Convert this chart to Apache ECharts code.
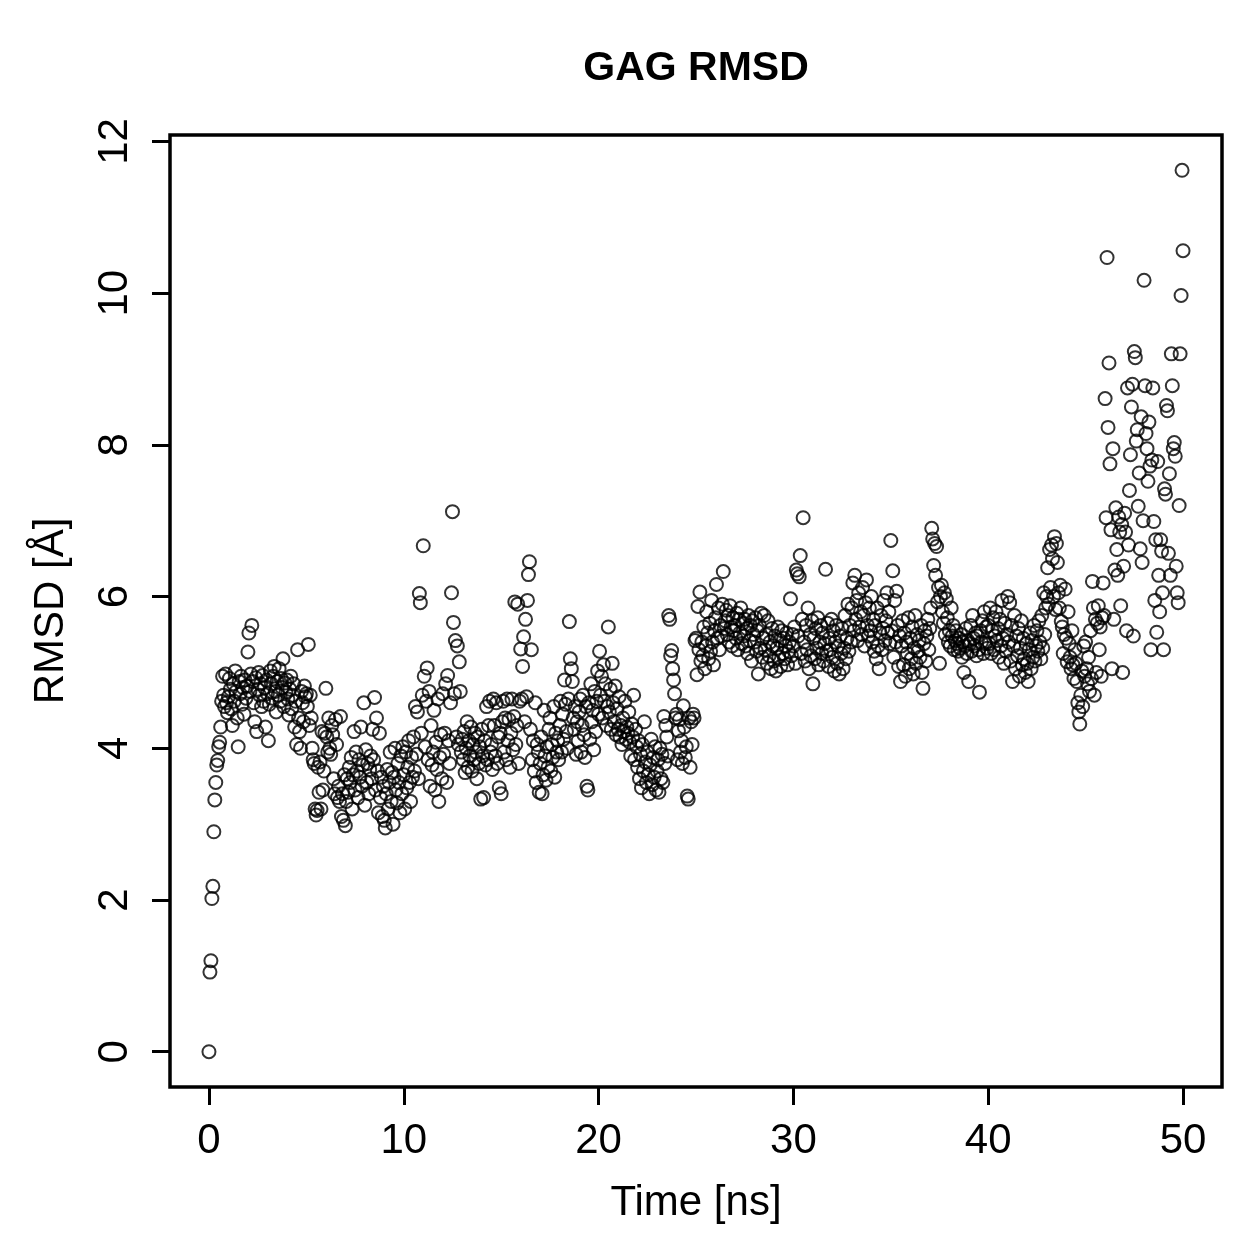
<!DOCTYPE html>
<html>
<head>
<meta charset="utf-8">
<script src="https://cdn.jsdelivr.net/npm/echarts@6/dist/echarts.min.js"></script>
<style>
  html, body { margin: 0; padding: 0; background: #fff; }
  #chart { width: 1259px; height: 1259px; }
</style>
</head>
<body>
<div id="chart"></div>
<script>
// sampling step of the trajectory (ns)
var timeStep = 0.05;

// RMSD values (Å), one list per 5 ns block
var rmsd00to05 = [0.00, 1.05, 1.20, 2.02, 2.18, 2.90, 3.32, 3.55, 3.78, 3.84, 4.02, 4.08, 4.28,
  4.62, 4.95, 4.70, 4.55, 4.98, 4.60, 4.47,
  4.68, 4.92, 4.78, 4.52, 4.30, 4.85, 4.62, 5.02, 4.75, 4.40, 4.02, 4.88, 4.72, 4.95, 4.58, 4.80, 4.45, 4.90, 4.66, 4.82,
  5.27, 5.52, 4.75, 4.98, 5.62, 4.88, 4.60, 4.35, 4.93, 4.22, 4.78, 5.00, 4.70, 4.85, 4.55, 4.96, 4.62, 4.80, 4.28, 4.90,
  4.72, 4.10, 4.58, 5.02, 4.85, 4.66, 4.95, 5.08, 4.75, 4.48, 4.88, 4.70, 5.05, 4.62, 4.92, 4.80, 5.18, 4.55, 4.86, 4.74,
  4.90, 4.65, 4.44, 4.78, 4.95, 4.52, 4.70, 4.85, 4.28, 4.62, 4.05, 5.30, 4.40, 4.22, 4.00, 4.75, 4.60, 4.35, 4.82, 4.68];
var rmsd05to10 = [4.72, 4.55, 5.37, 4.30, 4.70, 4.40, 4.00, 3.85, 3.80, 3.20,
  3.12, 3.18, 3.75, 3.42, 3.82, 3.20, 4.22, 3.45, 3.70, 4.20,
  4.79, 4.15, 3.95, 4.40, 4.00, 3.92, 4.30, 4.18, 3.60, 3.40,
  4.38, 4.05, 3.35, 3.50, 3.30, 4.42, 3.10, 3.40, 3.05, 3.65,
  2.98, 3.30, 3.60, 3.42, 3.75, 3.55, 3.88, 3.20, 3.65, 4.22,
  3.45, 3.95, 3.70, 3.35, 3.85, 3.62, 4.28, 3.50, 3.78, 4.60,
  3.25, 3.98, 3.55, 3.80, 3.40, 3.72, 3.90, 3.60, 4.25, 3.85,
  4.67, 3.45, 4.40, 3.70, 3.15, 4.20, 3.35, 3.62, 3.10, 3.50,
  3.05, 2.95, 3.40, 3.72, 3.20, 3.55, 3.95, 3.30, 3.68, 3.00,
  3.62, 4.00, 3.45, 3.28, 3.80, 3.55, 3.15, 3.90, 3.40, 4.02];
var rmsd10to15 = [3.65, 3.20, 3.95, 3.48, 3.75, 4.10, 3.55, 3.30, 3.88, 3.62,
  4.15, 3.70, 4.55, 3.92, 4.48, 3.60, 6.04, 5.92, 4.20, 4.70,
  6.67, 4.95, 4.02, 4.62, 5.06, 3.85, 4.75, 3.50, 4.30, 3.78,
  3.95, 4.50, 3.45, 4.08, 3.72, 4.65, 3.30, 3.88, 4.18, 3.60,
  4.72, 3.92, 4.20, 4.85, 3.55, 4.96, 4.10, 3.80, 4.60, 6.05,
  7.12, 5.66, 4.72, 5.42, 4.15, 5.35, 4.05, 5.14, 4.75, 3.95,
  4.12, 3.85, 4.22, 3.68, 4.00, 4.35, 3.75, 4.10, 3.90, 4.28,
  3.70, 4.05, 3.85, 4.20, 3.95, 3.60, 4.15, 3.80, 4.02, 3.33,
  4.25, 3.90, 3.35, 4.10, 3.78, 4.55, 3.85, 4.30, 4.62, 3.95,
  4.05, 3.72, 4.65, 4.30, 3.90, 4.60, 3.80, 4.15, 3.48, 4.20];
var rmsd15to20 = [3.40, 4.35, 4.62, 3.95, 4.40, 3.85, 4.65, 4.10, 4.38, 3.75,
  4.20, 4.65, 3.98, 4.42, 5.93, 4.05, 4.30, 5.90, 3.80, 4.62,
  5.31, 4.65, 5.08, 5.47, 4.35, 5.70, 4.68, 5.95, 6.29, 6.46,
  4.25, 5.30, 3.85, 4.10, 3.70, 4.60, 3.55, 4.05, 3.95, 3.42,
  3.80, 4.15, 3.40, 3.65, 4.50, 3.90, 3.58, 4.02, 3.75, 4.25,
  4.40, 3.70, 4.05, 3.88, 4.55, 3.62, 4.20, 3.95, 4.10, 3.85,
  4.30, 4.62, 3.95, 4.45, 4.12, 4.90, 4.58, 4.22, 4.00, 4.65,
  5.67, 5.18, 5.05, 4.88, 4.40, 4.25, 4.55, 3.92, 4.35, 4.10,
  4.48, 4.65, 3.95, 4.30, 4.70, 4.18, 3.88, 4.55, 3.50, 3.45,
  4.60, 4.12, 4.85, 4.35, 4.50, 3.98, 4.75, 4.22, 4.62, 5.02];
var rmsd20to25 = [4.45, 5.28, 4.70, 4.95, 4.40, 5.10, 4.62, 4.85, 4.30, 4.55,
  5.60, 4.48, 4.78, 4.25, 5.12, 4.60, 4.35, 4.82, 4.18, 4.52,
  4.25, 4.68, 4.15, 4.30, 4.05, 4.40, 4.22, 4.62, 4.12, 4.28,
  4.20, 4.48, 4.08, 3.90, 4.32, 4.15, 4.70, 3.85, 4.25, 4.02,
  3.75, 4.10, 3.60, 3.92, 3.48, 4.05, 3.70, 4.35, 3.82, 3.55,
  3.95, 3.65, 3.40, 3.78, 4.12, 3.52, 3.88, 3.62, 4.02, 3.45,
  3.70, 3.85, 3.42, 4.00, 3.60, 3.92, 3.55, 4.42, 3.80, 4.30,
  4.15, 3.90, 5.75, 5.70, 5.22, 5.29, 5.05, 4.90, 4.72, 4.40,
  4.45, 3.85, 4.23, 4.38, 3.95, 4.10, 3.80, 4.56, 4.28, 3.88,
  4.02, 3.37, 3.33, 4.40, 3.75, 4.35, 4.05, 4.45, 4.40, 5.42];
var rmsd25to30 = [5.45, 4.97, 5.87, 5.30, 6.06, 5.15, 5.40, 5.22, 5.60, 5.05,
  5.35, 5.80, 5.52, 5.18, 5.65, 5.28, 5.95, 5.40, 5.10, 5.55,
  5.72, 6.16, 5.45, 5.85, 5.30, 5.62, 5.48, 5.90, 6.33, 5.58,
  5.68, 5.82, 5.50, 5.75, 5.40, 5.88, 5.60, 5.35, 5.72, 5.55,
  5.62, 5.45, 5.78, 5.30, 5.70, 5.52, 5.85, 5.38, 5.65, 5.48,
  5.70, 5.35, 5.58, 5.25, 5.75, 5.42, 5.62, 5.15, 5.68, 5.50,
  5.40, 5.72, 5.28, 5.55, 4.98, 5.62, 5.32, 5.78, 5.20, 5.45,
  5.75, 5.30, 5.50, 5.12, 5.68, 5.22, 5.40, 5.05, 5.58, 5.35,
  5.15, 5.48, 5.02, 5.32, 5.60, 5.20, 5.42, 5.08, 5.55, 5.25,
  5.45, 5.18, 5.35, 5.52, 5.10, 5.28, 5.40, 5.97, 5.22, 5.50];
var rmsd30to35 = [5.35, 5.60, 5.12, 6.35, 6.30, 5.48, 6.26, 6.54, 5.25, 5.70,
  7.04, 5.40, 5.15, 5.62, 5.30, 5.85, 5.05, 5.50, 5.22, 5.68,
  4.85, 5.45, 5.18, 5.58, 5.32, 5.72, 5.10, 5.40, 5.62, 5.25,
  5.52, 5.15, 5.38, 6.36, 5.28, 5.65, 5.08, 5.45, 5.30, 5.70,
  5.20, 5.55, 5.02, 5.40, 5.62, 5.12, 5.35, 4.98, 5.48, 5.25,
  5.58, 5.05, 5.32, 5.75, 5.18, 5.45, 5.90, 5.28, 5.62, 5.40,
  5.85, 6.18, 5.55, 6.28, 5.70, 5.95, 5.42, 6.05, 5.60, 5.80,
  5.50, 6.12, 5.75, 5.35, 5.92, 6.22, 5.62, 5.48, 5.85, 5.55,
  6.00, 5.40, 5.70, 5.28, 5.62, 5.18, 5.85, 5.35, 5.05, 5.52,
  5.75, 5.30, 5.58, 5.95, 5.42, 5.68, 6.05, 5.52, 5.80, 5.38];
var rmsd35to40 = [6.74, 5.55, 6.34, 5.20, 5.95, 5.40, 6.07, 5.62, 5.08, 5.48,
  4.88, 5.35, 5.68, 5.10, 5.52, 4.95, 5.40, 5.25, 5.72, 5.05,
  5.45, 5.18, 5.60, 4.98, 5.32, 5.75, 5.12, 5.50, 5.28, 5.42,
  5.20, 5.62, 5.00, 4.79, 5.38, 5.55, 5.15, 5.48, 5.70, 5.30,
  5.58, 5.85, 6.90, 6.76, 6.41, 6.70, 6.28, 6.66, 5.93, 6.12,
  5.12, 6.00, 6.15, 5.80, 5.65, 6.05, 5.50, 5.97, 5.72, 5.40,
  5.55, 5.35, 5.85, 5.48, 5.62, 5.30, 5.42, 5.55, 5.38, 5.28,
  5.45, 5.32, 5.50, 5.20, 5.40, 5.00, 5.35, 5.58, 5.25, 5.42,
  4.88, 5.38, 5.62, 5.28, 5.75, 5.45, 5.35, 5.52, 5.22, 5.48,
  5.30, 4.74, 5.55, 5.40, 5.68, 5.25, 5.80, 5.38, 5.60, 5.32];
var rmsd40to45 = [5.62, 5.38, 5.85, 5.25, 5.55, 5.72, 5.30, 5.48, 5.80, 5.42,
  5.58, 5.20, 5.70, 5.35, 5.95, 5.45, 5.12, 5.65, 5.28, 5.50,
  6.00, 5.40, 5.92, 5.15, 5.62, 4.88, 5.35, 5.75, 5.05, 5.48,
  5.22, 5.58, 4.95, 5.32, 5.68, 5.10, 5.45, 5.18, 5.00, 5.38,
  5.12, 4.88, 5.30, 5.52, 5.05, 5.42, 5.20, 5.62, 5.15, 5.35,
  5.55, 5.28, 5.68, 5.40, 5.18, 5.75, 5.32, 6.05, 5.50, 5.85,
  6.00, 6.38, 5.90, 6.62, 6.12, 6.68, 6.50, 6.00, 6.79, 5.83,
  6.70, 6.45, 6.05, 5.85, 6.15, 5.67, 5.60, 5.25, 5.50, 6.10,
  5.45, 5.14, 5.80, 5.38, 5.20, 5.05, 5.55, 5.10, 4.92, 5.30,
  5.12, 4.88, 4.60, 4.48, 4.32, 4.70, 5.02, 4.55, 5.35, 4.95];
var rmsd45to50 = [5.40, 5.05, 4.85, 5.20, 4.75, 5.55, 4.92, 6.20, 5.85, 4.70,
  5.70, 5.00, 5.65, 5.88, 5.30, 5.60, 4.95, 5.72, 6.18, 5.75,
  8.61, 7.04, 10.47, 8.23, 9.08, 7.75, 6.88, 5.05, 7.95, 5.70,
  6.35, 7.17, 6.62, 6.28, 7.05, 6.85, 5.88, 6.95, 5.00, 6.40,
  7.10, 6.85, 5.55, 8.75, 6.68, 7.40, 7.87, 8.50, 8.80, 5.48,
  9.23, 9.15, 8.05, 8.20, 7.19, 7.63, 6.63, 8.37, 6.45, 7.00,
  10.17, 8.78, 8.15, 7.95, 7.52, 8.30, 7.72, 5.30, 7.80, 8.75,
  6.99, 5.95, 6.75, 5.53, 7.78, 6.28, 5.80, 6.75, 6.60, 6.05,
  5.30, 7.42, 7.35, 8.52, 8.45, 6.57, 7.62, 6.28, 9.20, 8.78,
  7.95, 8.03, 7.85, 6.40, 6.05, 5.92, 7.20, 9.20, 9.97, 11.62,
  10.56];

var xTicks = [0, 10, 20, 30, 40, 50];
var yTicks = [0, 2, 4, 6, 8, 10, 12];

var rmsd = [].concat(rmsd00to05, rmsd05to10, rmsd10to15, rmsd15to20, rmsd20to25,
  rmsd25to30, rmsd30to35, rmsd35to40, rmsd40to45, rmsd45to50);
var points = rmsd.map(function (v, i) {
  return [+(i * timeStep).toFixed(2), v];
});

var font = 'Liberation Sans, Arial, Helvetica, sans-serif';
var chart = echarts.init(document.getElementById('chart'));
var option = {
  animation: false,
  backgroundColor: '#fff',
  grid: {
    left: 170, top: 135, right: 37, bottom: 172,
    show: true, borderColor: '#000', borderWidth: 3.5, backgroundColor: 'transparent'
  },
  graphic: [{
    type: 'text', x: 696, y: 69,
    style: {
      text: 'GAG RMSD', font: 'bold 41px ' + font, fill: '#000',
      textAlign: 'center', textVerticalAlign: 'middle'
    }
  }],
  xAxis: {
    type: 'value', min: -2, max: 52,
    name: 'Time [ns]', nameLocation: 'middle', nameGap: 95,
    nameTextStyle: { fontSize: 42, fontFamily: font, color: '#000' },
    axisLine: { show: false, onZero: false },
    splitLine: { show: false },
    axisTick: { show: true, length: 18, customValues: xTicks, lineStyle: { color: '#000', width: 3 } },
    axisLabel: { customValues: xTicks, margin: 33, fontSize: 42, fontFamily: font, color: '#000' }
  },
  yAxis: {
    type: 'value', min: -0.465, max: 12.085,
    name: 'RMSD [Å]', nameLocation: 'middle', nameGap: 98,
    nameTextStyle: { fontSize: 42, fontFamily: font, color: '#000' },
    axisLine: { show: false, onZero: false },
    splitLine: { show: false },
    axisTick: { show: true, length: 18, customValues: yTicks, lineStyle: { color: '#000', width: 3 } },
    axisLabel: { customValues: yTicks, rotate: 90, margin: 34, fontSize: 42, fontFamily: font, color: '#000' }
  },
  series: [{
    type: 'scatter',
    data: points,
    symbol: 'circle',
    symbolSize: 13,
    itemStyle: { color: 'rgba(0,0,0,0)', borderColor: '#000', borderWidth: 2 }
  }]
};
chart.setOption(option);
</script>
</body>
</html>
